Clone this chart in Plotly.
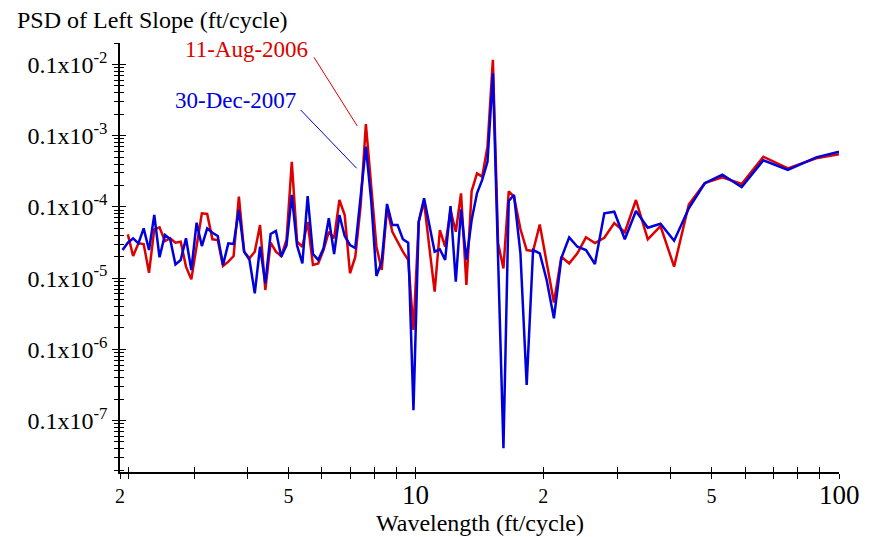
import math
import plotly.graph_objects as go

# Wavelength of each spectral estimate (ft/cycle)
wavelength = [
    2.028, 2.087, 2.148, 2.211, 2.275, 2.342, 2.410, 2.480, 2.553, 2.627,
    2.704, 2.783, 2.864, 2.948, 3.034, 3.122, 3.214, 3.307, 3.404, 3.503,
    3.606, 3.711, 3.819, 3.930, 4.046, 4.164, 4.285, 4.410, 4.539, 4.671,
    4.808, 4.948, 5.093, 5.241, 5.395, 5.552, 5.715, 5.881, 6.053, 6.230,
    6.412, 6.599, 6.792, 6.990, 7.194, 7.404, 7.621, 7.843, 8.072, 8.308,
    8.551, 8.801, 9.057, 9.322, 9.594, 9.874, 10.16, 10.46, 10.76, 11.08,
    11.40, 11.73, 12.08, 12.43, 12.79, 13.17, 13.55, 13.95, 14.35, 14.77,
    15.21, 15.65, 16.11, 16.58, 17.06, 17.67, 18.28, 18.93, 19.63, 20.38,
    21.20, 22.08, 23.04, 24.09, 25.24, 26.50, 27.89, 29.44, 31.18, 33.13,
    35.33, 37.86, 40.77, 44.17, 48.18, 53.00, 58.89, 66.25, 75.71, 88.33,
    100.0,
]

# PSD survey of 11-Aug-2006
psd_2006 = [
    None, 4.12e-6, 2.04e-6, 3.08e-6, 3.01e-6, 1.19e-6, 4.84e-6, 5.17e-6, 3.32e-6, 3.62e-6,
    3.14e-6, 3.25e-6, 1.45e-6, 9.6e-7, 2.82e-6, 8.13e-6, 7.95e-6, 3.51e-6, 3.43e-6, 1.48e-6,
    1.70e-6, 2.04e-6, 1.39e-5, 2.35e-6, 1.90e-6, 2.35e-6, 5.57e-6, 6.81e-7, 3.14e-6, 2.35e-6,
    2.04e-6, 3.43e-6, 4.31e-5, 3.25e-6, 2.76e-6, 6.14e-6, 1.53e-6, 1.61e-6, 2.48e-6, 4.48e-6,
    3.62e-6, 1.25e-5, 7.70e-6, 1.17e-6, 1.98e-6, 1.01e-5, 1.46e-4, 1.73e-5, 2.76e-6, 1.30e-6,
    9.56e-6, 4.48e-6, 3.25e-6, 2.35e-6, 1.80e-6, 1.87e-7, 6.20e-6, 1.18e-5, 2.76e-6, 6.44e-7,
    4.74e-6, 2.76e-6, 9.05e-6, 4.48e-6, 1.55e-5, 8.0e-7, 1.67e-5, 2.96e-5, 2.66e-5, 7.01e-5,
    1.16e-3, 3.08e-6, 1.37e-6, 1.65e-5, 1.40e-5, 4.89e-6, 2.48e-6, 2.40e-6, 5.66e-6, 1.66e-6,
    4.54e-7, 2.00e-6, 1.61e-6, 2.23e-6, 3.74e-6, 3.11e-6, 3.68e-6, 5.94e-6, 4.41e-6, 1.25e-5,
    3.51e-6, 5.39e-6, 1.45e-6, 1.08e-5, 2.17e-5, 2.60e-5, 2.10e-5, 5.07e-5, 3.48e-5, 4.82e-5,
    5.48e-5,
]

# PSD survey of 30-Dec-2007
psd_2007 = [
    2.48e-6, 3.14e-6, 3.62e-6, 3.08e-6, 5.00e-6, 2.48e-6, 7.70e-6, 1.96e-6, 4.03e-6, 3.54e-6,
    1.56e-6, 1.80e-6, 3.62e-6, 1.30e-6, 6.00e-6, 2.82e-6, 5.00e-6, 4.34e-6, 3.90e-6, 1.53e-6,
    3.08e-6, 3.01e-6, 9.05e-6, 2.35e-6, 1.80e-6, 6.12e-7, 2.76e-6, 8.45e-7, 4.16e-6, 4.59e-6,
    2.00e-6, 2.87e-6, 1.47e-5, 2.87e-6, 1.61e-6, 1.42e-5, 2.18e-6, 1.80e-6, 2.62e-6, 6.92e-6,
    2.18e-6, 7.70e-6, 3.90e-6, 2.92e-6, 2.65e-6, 1.39e-5, 7.01e-5, 1.25e-5, 1.07e-6, 1.70e-6,
    1.10e-5, 5.57e-6, 5.57e-6, 3.51e-6, 3.14e-6, 1.40e-8, 6.20e-6, 1.32e-5, 5.88e-6, 2.35e-6,
    2.54e-6, 1.80e-6, 1.03e-5, 8.9e-7, 9.25e-6, 1.80e-6, 6.55e-6, 1.55e-5, 2.39e-5, 4.31e-5,
    7.52e-4, 1.25e-6, 4.07e-9, 1.21e-5, 1.47e-5, 2.23e-6, 3.15e-8, 2.48e-6, 2.23e-6, 9.4e-7,
    2.73e-7, 1.92e-6, 3.74e-6, 2.76e-6, 2.48e-6, 1.58e-6, 8.13e-6, 8.56e-6, 3.51e-6, 8.76e-6,
    5.09e-6, 5.81e-6, 3.35e-6, 9.56e-6, 2.15e-5, 2.83e-5, 1.90e-5, 4.51e-5, 3.30e-5, 4.97e-5,
    5.96e-5,
]

series_names = ["11-Aug-2006", "30-Dec-2007"]

# Axis ticks
x_small_ticks = [2, 5, 20, 50]
x_small_labels = ["2", "5", "2", "5"]
x_big_ticks = [10, 100]
x_big_labels = ["10", "100"]
x_minor_ticks = [2.1, 3, 4, 6, 7, 8, 9, 10, 30, 40, 60, 70, 80, 90, 100]
y_major_ticks = [1e-3, 1e-4, 1e-5, 1e-6, 1e-7, 1e-8]
y_major_labels = ["0.1x10<sup>-2</sup>", "0.1x10<sup>-3</sup>", "0.1x10<sup>-4</sup>",
                  "0.1x10<sup>-5</sup>", "0.1x10<sup>-6</sup>", "0.1x10<sup>-7</sup>"]

RED = "#dd0000"
BLUE = "#0000dd"
FONT = "Liberation Serif"

x_range = [math.log10(2.0), 2.0]
y_range = [-8.723, -2.698]
y_minor_ticks = [m * 10.0 ** e for e in range(-9, -2) for m in range(2, 10)]

fig = go.Figure()
fig.add_trace(go.Scatter(x=wavelength, y=psd_2006, mode="lines", name=series_names[0],
                         line=dict(color=RED, width=2.5), hoverinfo="skip"))
# second survey sits on a twin pair of axes (same ranges) that carries the inner ticks
fig.add_trace(go.Scatter(x=wavelength, y=psd_2007, mode="lines", name=series_names[1],
                         xaxis="x2", yaxis="y2",
                         line=dict(color=BLUE, width=2.5), hoverinfo="skip"))

tick_common = dict(tickcolor="black", tickwidth=1.2, showgrid=False, zeroline=False)


def minor_ticks(vals, side, length):
    return dict(tickmode="array", tickvals=vals, ticks=side, ticklen=length,
                tickcolor="black", tickwidth=1.2, showgrid=False)


fig.update_layout(
    width=873, height=537,
    margin=dict(l=120, r=34, t=43, b=65),
    paper_bgcolor="white", plot_bgcolor="white",
    showlegend=False,
    font=dict(family=FONT, color="black", size=24),
    title=dict(text="PSD of Left Slope (ft/cycle)", font=dict(family=FONT, size=24, color="black"),
               x=17 / 873, xanchor="left", xref="container",
               y=1 - 20 / 537, yanchor="middle", yref="container"),
    xaxis=dict(type="log", range=x_range, anchor="y",
               showline=True, linecolor="black", linewidth=1.5,
               tickmode="array", tickvals=x_small_ticks, ticktext=x_small_labels,
               ticks="outside", ticklen=5, tickangle=0, tickfont=dict(size=20, family=FONT),
               minor=minor_ticks(x_minor_ticks, "outside", 5),
               **tick_common),
    xaxis2=dict(type="log", range=x_range, overlaying="x", anchor="y2", side="bottom",
                showline=False, tickmode="array", tickvals=x_small_ticks,
                ticks="inside", ticklen=5, showticklabels=False,
                minor=minor_ticks(x_minor_ticks, "inside", 5), **tick_common),
    yaxis=dict(type="log", range=y_range, anchor="x",
               showline=True, linecolor="black", linewidth=1.5,
               tickmode="array", tickvals=y_major_ticks, ticktext=y_major_labels,
               ticks="outside", ticklen=6, tickfont=dict(size=24, family=FONT),
               minor=minor_ticks(y_minor_ticks, "outside", 4),
               **tick_common),
    yaxis2=dict(type="log", range=y_range, overlaying="y", anchor="x2", side="left",
                showline=False, tickmode="array", tickvals=y_major_ticks,
                ticks="inside", ticklen=6, showticklabels=False,
                minor=minor_ticks(y_minor_ticks, "inside", 4),
                **tick_common),
)

# Large decade labels on the wavelength axis
for v, t in zip(x_big_ticks, x_big_labels):
    fig.add_annotation(text=t, xref="x", yref="paper", x=math.log10(v), y=-0.014,
                       xanchor="center", yanchor="top", showarrow=False,
                       font=dict(family=FONT, size=27, color="black"))

# Series labels with leader lines to the spectral peak near 7.6 ft/cycle
fig.add_annotation(text=series_names[0], xref="paper", yref="paper",
                   x=0.1756, y=0.9837, xanchor="center", yanchor="middle", showarrow=False,
                   font=dict(family=FONT, size=23, color=RED))
fig.add_annotation(text=series_names[1], xref="paper", yref="paper",
                   x=0.1609, y=0.8671, xanchor="center", yanchor="middle", showarrow=False,
                   font=dict(family=FONT, size=23, color=BLUE))
fig.add_shape(type="line", xref="paper", yref="paper",
              x0=0.2698, y0=0.9667, x1=0.3300, y1=0.8065, line=dict(color=RED, width=1))
fig.add_shape(type="line", xref="paper", yref="paper",
              x0=0.2513, y0=0.8438, x1=0.3292, y1=0.7079, line=dict(color=BLUE, width=1))

# Axis title
fig.add_annotation(text="Wavelength (ft/cycle)", xref="paper", yref="paper",
                   x=0.5, y=-0.1189, xanchor="center", yanchor="middle", showarrow=False,
                   font=dict(family=FONT, size=24, color="black"))

fig.write_html("out.html")
